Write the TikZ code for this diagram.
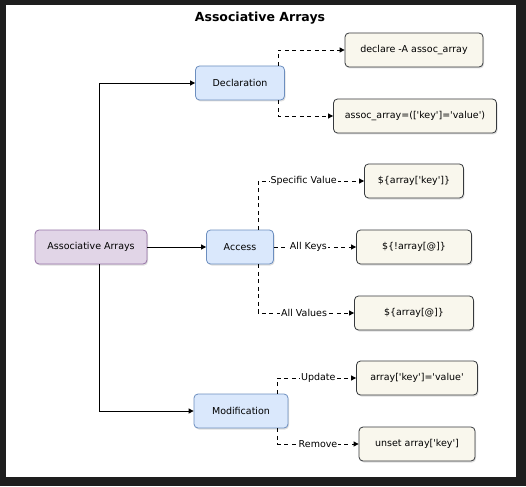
\documentclass[tikz,border=0pt]{standalone}
\usepackage{fontspec}
\setmainfont[Ligatures=TeXOff]{DejaVu Sans}
\usetikzlibrary{arrows.meta,shadows}

\definecolor{purpfill}{HTML}{E1D5E7}
\definecolor{purpline}{HTML}{9673A6}
\definecolor{bluefill}{HTML}{DAE8FC}
\definecolor{blueline}{HTML}{6C8EBF}
\definecolor{codefill}{HTML}{F9F7ED}
\definecolor{codeline}{HTML}{36393D}
\definecolor{frame}{HTML}{1E1E1E}

\tikzset{
  box/.style={draw, rounded corners=4pt, minimum height=34pt, line width=0.8pt,
    inner sep=2pt, font=\fontsize{9.5}{11}\selectfont,
    drop shadow={shadow xshift=1pt, shadow yshift=-1.5pt, opacity=0.25}},
  rootbox/.style={box, fill=purpfill, draw=purpline},
  topic/.style={box, fill=bluefill, draw=blueline},
  codebox/.style={box, fill=codefill, draw=codeline},
  solidedge/.style={-{Triangle[length=5pt,width=5pt]}, line width=0.8pt},
  dashedge/.style={solidedge, dash pattern=on 4pt off 3.5pt},
  edgelabel/.style={fill=white, inner sep=1pt, font=\fontsize{9.5}{11}\selectfont}
}

\begin{document}
\begin{tikzpicture}[x=1pt,y=-1pt]

% frame and page
\fill[frame] (0,0) rectangle (526,486);
\fill[white] (6,5) rectangle (516,477);
\useasboundingbox (0,0) rectangle (526,486);

\node[font=\fontsize{12.5}{14}\selectfont\bfseries] (title) at (260,18) {Associative Arrays};

% main topics
\node[rootbox, minimum width=112pt] (root) at (91,247) {Associative Arrays};
\node[topic, minimum width=89pt] (decl) at (240,83) {Declaration};
\node[topic, minimum width=67pt] (access) at (240,247) {Access};
\node[topic, minimum width=94pt] (modif) at (241,411) {Modification};

% code boxes
\node[codebox, minimum width=138pt] (declA) at (414,50) {declare -A assoc\_array};
\node[codebox, minimum width=163pt] (assign) at (415,116) {assoc\_array=(['key']='value')};
\node[codebox, minimum width=99pt] (getval) at (414,181) {\$\{array['key']\}};
\node[codebox, minimum width=115pt] (getkeys) at (414,247) {\$\{!array[@]\}};
\node[codebox, minimum width=119pt] (getvals) at (414,313) {\$\{array[@]\}};
\node[codebox, minimum width=121pt] (update) at (417,378) {array['key']='value'};
\node[codebox, minimum width=116pt] (remove) at (417,444) {unset array['key']};

% root to topics
\draw[solidedge] ([xshift=8pt]root.north) |- (decl.west);
\draw[solidedge] (root.east) -- (access.west);
\draw[solidedge] ([xshift=8pt]root.south) |- (modif.west);

% declaration
\draw[dashedge] ([xshift=-7pt]decl.north east) |- (declA.west);
\draw[dashedge] ([xshift=-7pt]decl.south east) |- (assign.west);

% access
\draw[dashedge] ([xshift=-16pt]access.north east) |- (getval.west)
  node[edgelabel, pos=0.715] {Specific Value};
\draw[dashedge] (access.east) -- (getkeys.west)
  node[edgelabel, pos=0.42] {All Keys};
\draw[dashedge] ([xshift=-16pt]access.south east) |- (getvals.west)
  node[edgelabel, pos=0.74] {All Values};

% modification
\draw[dashedge] ([xshift=-11pt]modif.north east) |- (update.west)
  node[edgelabel, pos=0.76] {Update};
\draw[dashedge] ([xshift=-11pt]modif.south east) |- (remove.west)
  node[edgelabel, pos=0.75] {Remove};

\end{tikzpicture}
\end{document}
